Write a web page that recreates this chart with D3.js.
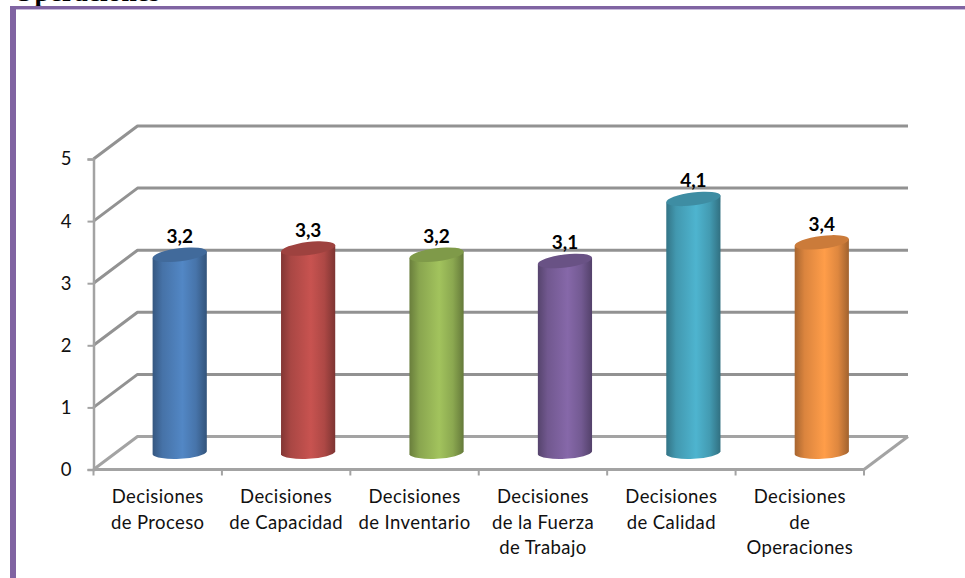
<!DOCTYPE html>
<html><head><meta charset="utf-8">
<script src="https://cdn.jsdelivr.net/npm/d3@7"></script>
<style>html,body{margin:0;padding:0;background:#fff}svg{display:block}</style>
</head><body><svg id="c" width="965" height="578"></svg>
<script>
const categories = ["Decisiones de Proceso","Decisiones de Capacidad","Decisiones de Inventario","Decisiones de la Fuerza de Trabajo","Decisiones de Calidad","Decisiones de Operaciones"];
const categoryLines = [["Decisiones","de Proceso"],["Decisiones","de Capacidad"],["Decisiones","de Inventario"],["Decisiones","de la Fuerza","de Trabajo"],["Decisiones","de Calidad"],["Decisiones","de","Operaciones"]];
const values = [3.2,3.3,3.2,3.1,4.1,3.4];
const yTicks = [0,1,2,3,4,5];
const colors = ["#4f81bd","#c0504d","#9bbb59","#8064a2","#4bacc6","#f79646"];

const svg = d3.select("#c");
const left=93.5,right=864,y0=469.5,y5=159,dx=44,dy=-33;
const x=d3.scaleBand().domain(categories).range([left,right]);
const y=d3.scaleLinear().domain([0,5]).range([y0,y5]);
const gridC="#929292",axisC="#a3a3a3";

// page fragments
svg.append("text").attr("x",13).attr("y",1).attr("font-family","Liberation Serif").attr("font-weight","bold").attr("font-size",27.5).attr("fill","#000").text("Operaciones");
svg.append("rect").attr("x",10).attr("y",6).attr("width",955).attr("height",3).attr("fill","#8064a2");
svg.append("rect").attr("x",15).attr("y",9).attr("width",950).attr("height",1).attr("fill","#c9bcdb");
svg.append("rect").attr("x",10).attr("y",6).attr("width",6).attr("height",572).attr("fill","#8064a2");

// walls
const lineG=d3.line();
svg.append("g").selectAll("path").data(yTicks).join("path")
  .attr("d",t=>lineG([[left,y(t)],[left+dx,y(t)+dy],[right+dx,y(t)+dy]]))
  .attr("fill","none").attr("stroke",t=>t===0?axisC:gridC).attr("stroke-width",3).attr("stroke-linejoin","round");
svg.append("path").attr("d",lineG([[right+dx,y(0)+dy],[right,y(0)]])).attr("fill","none").attr("stroke",axisC).attr("stroke-width",3);

// axes
const ax=svg.append("g").attr("transform",`translate(${left},0)`)
  .call(d3.axisLeft(y).tickValues(yTicks).tickSize(6).tickPadding(16).tickFormat(d3.format("d")));
ax.select(".domain").attr("stroke",axisC).attr("stroke-width",2.5);
ax.selectAll("line").attr("stroke",axisC).attr("stroke-width",2);
ax.selectAll("text").attr("font-family","Lato").attr("font-size",18.5).attr("fill","#111");

const bx=svg.append("g").attr("transform",`translate(0,${y0})`);
bx.append("path").attr("d",lineG([[left,0],[right,0]])).attr("stroke",axisC).attr("stroke-width",3).attr("fill","none");
bx.selectAll("line").data([...categories.map(c=>x(c)),right]).join("line")
  .attr("x1",d=>d).attr("x2",d=>d).attr("y1",0).attr("y2",6).attr("stroke",axisC).attr("stroke-width",2);
bx.selectAll("text").data(categories).join("text")
  .attr("x",c=>x(c)+x.bandwidth()/2).attr("text-anchor","middle")
  .attr("font-family","Lato").attr("font-size",18.5).attr("letter-spacing",0.4).attr("fill","#111")
  .each(function(c,i){
    d3.select(this).selectAll("tspan").data(categoryLines[i]).join("tspan")
      .attr("x",x(c)+x.bandwidth()/2).attr("y",(d,j)=>33.5+j*25.7).text(d=>d);
  });

// gradients
const defs=svg.append("defs");
colors.forEach((c,i)=>{
  const col=d3.color(c);
  const g=defs.append("linearGradient").attr("id","g"+i);
  [[0,col.darker(1.1)],[.18,col.darker(.35)],[.55,col.brighter(.12)],[.8,col.darker(.3)],[1,col.darker(1.2)]]
   .forEach(([o,v])=>g.append("stop").attr("offset",o).attr("stop-color",v));
});

// cylinders
const rx=27.3,ry=6.5,tilt=-7,baseTilt=-3;
const ex=rx*Math.cos(-tilt*Math.PI/180),ey=rx*Math.sin(-tilt*Math.PI/180);
const by=rx*Math.sin(-baseTilt*Math.PI/180);
const bars=svg.append("g").selectAll("g").data(categories).join("g");
bars.each(function(c,i){
  const g=d3.select(this);
  const cx=x(c)+x.bandwidth()/2+dx/2;
  const base=y(0)+dy/2, top=y(values[i])+dy/2+0.5;
  g.append("path")
   .attr("d",`M${cx-ex},${top+ey} L${cx-ex},${base+by} A${rx},${ry} ${baseTilt} 0 0 ${cx+ex},${base-by} L${cx+ex},${top-ey} Z`)
   .attr("fill",`url(#g${i})`);
  g.append("ellipse").attr("cx",cx).attr("cy",top).attr("rx",rx).attr("ry",ry)
   .attr("transform",`rotate(${tilt} ${cx} ${top})`).attr("fill",d3.color(colors[i]).darker(.55));
  g.append("text").attr("x",cx).attr("y",top-11.5).attr("text-anchor","middle")
   .attr("font-family","Lato").attr("font-weight","bold").attr("font-size",19).attr("fill","#000")
   .text(d3.format(".1f")(values[i]).replace(".",","));
});
</script></body></html>
